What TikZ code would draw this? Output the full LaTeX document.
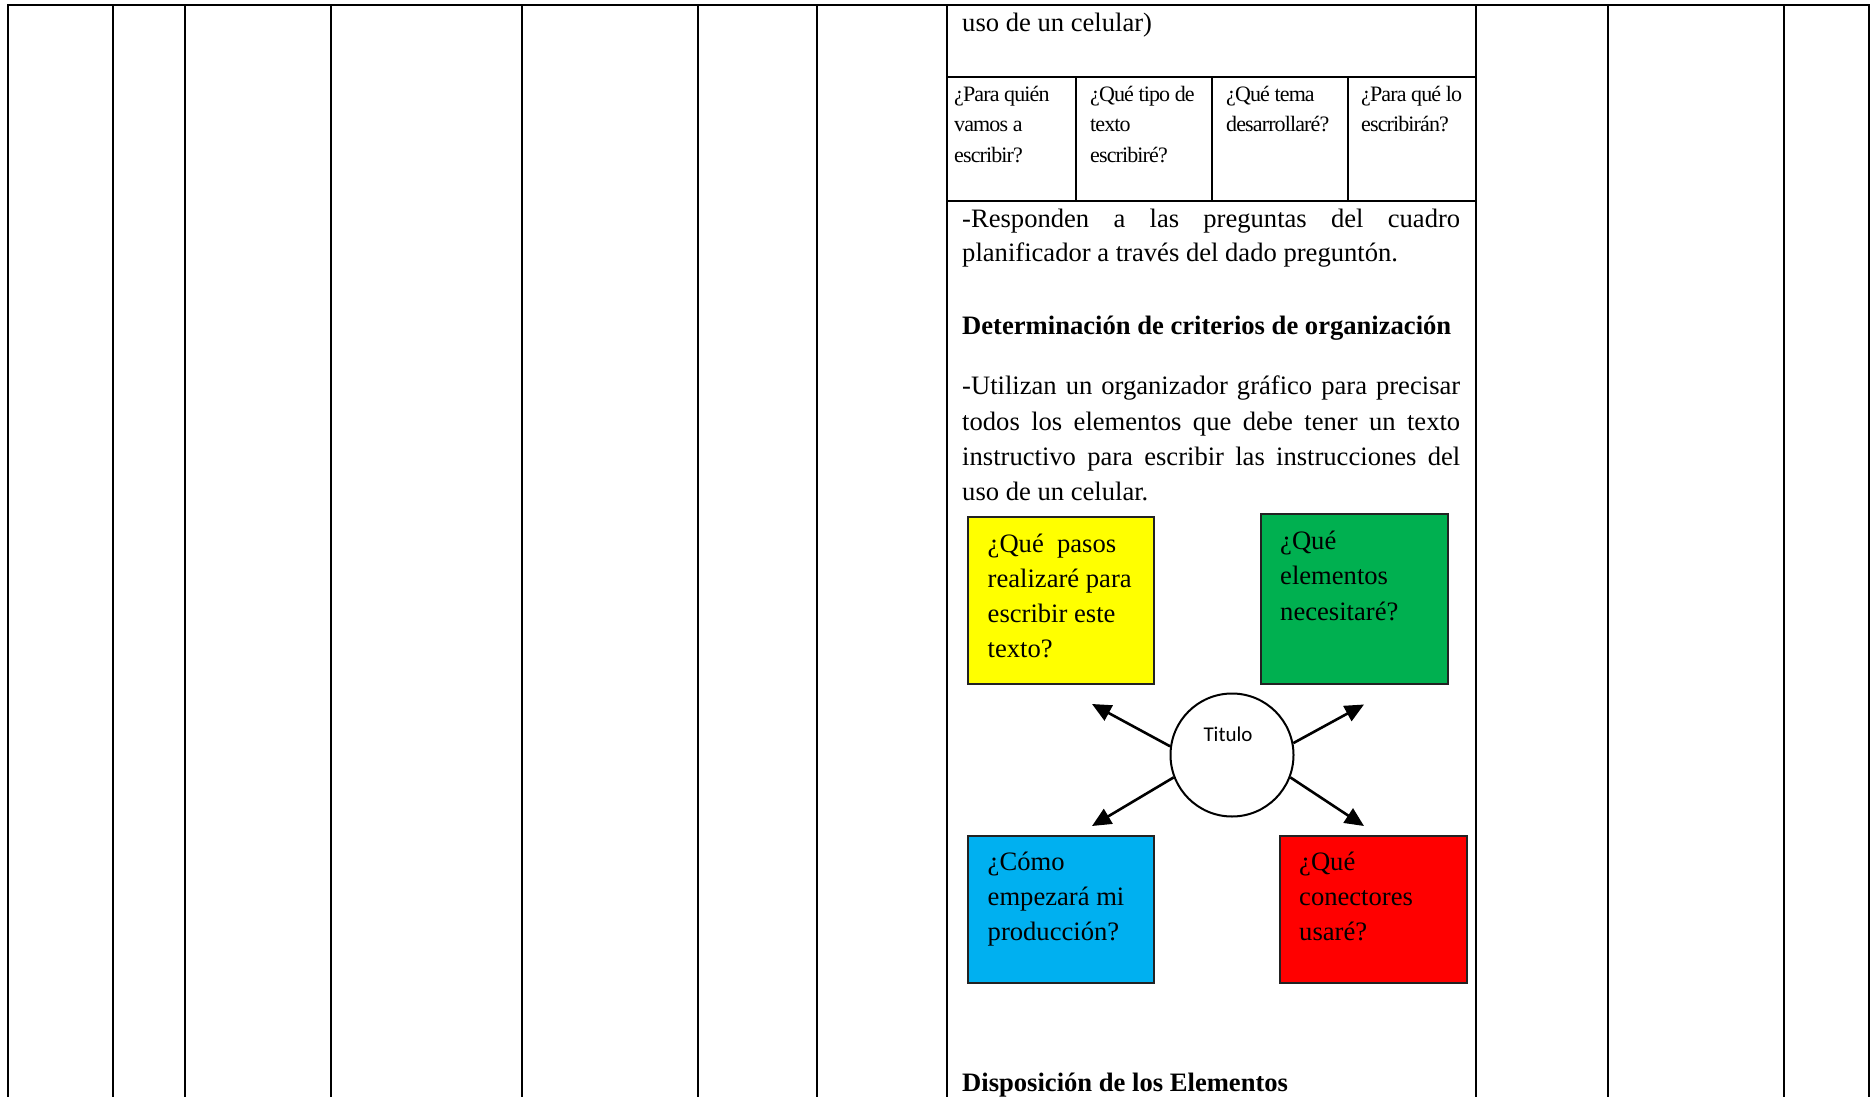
\documentclass[tikz,border=0pt]{standalone}
\usepackage{fontspec}
\setmainfont{Liberation Serif}
\newfontfamily\carl{Carlito}
\newfontfamily\cond[LetterSpace=-4]{Liberation Serif}
\usetikzlibrary{arrows.meta}
\definecolor{byel}{HTML}{FFFF00}
\definecolor{bgrn}{HTML}{00B050}
\definecolor{bblu}{HTML}{00B0F0}
\definecolor{bred}{HTML}{FF0000}
\definecolor{bline}{HTML}{222222}
\begin{document}
\begin{tikzpicture}[x=1pt,y=-1pt,
  grid/.style={line width=2pt,line cap=rect},
  txt/.style={anchor=base west,inner sep=0pt,font=\fontsize{26.6}{35.2}\selectfont},
  btxt/.style={txt,font=\fontsize{26.6}{35.2}\selectfont\bfseries},
  stxt/.style={anchor=base west,inner sep=0pt,font=\cond\fontsize{22}{30}\selectfont},
  qbox/.style={draw=bline,line width=2pt,anchor=north west,inner sep=0pt},
  arr/.style={line width=2.6pt,-{Triangle[length=19pt,width=17pt]}}]
\useasboundingbox (0,0) rectangle (1872,1097);
% table grid
\draw[grid] (8,5.5) -- (1869,5.5);
\foreach \xx in {8,113,185,331,522,698,817,947,1476,1608,1784,1869}
  \draw[grid] (\xx,5.5) -- (\xx,1097);
% sub-table
\draw[grid] (947,77.5) -- (1476,77.5);
\draw[grid] (947,200.5) -- (1476,200.5);
\foreach \xx in {1076,1212,1348}
  \draw[grid] (\xx,77.5) -- (\xx,200.5);
% texts
\node[txt] (u0) at (962,31.5) {uso de un celular)};
\node[stxt] (a1) at (954,101.5) {¿Para quién};
\node[stxt] (a2) at (954,132) {vamos a};
\node[stxt] (a3) at (954,162.5) {escribir?};
\node[stxt] (b1) at (1090,101.5) {¿Qué tipo de};
\node[stxt] (b2) at (1090,132) {texto};
\node[stxt] (b3) at (1090,162.5) {escribiré?};
\node[stxt] (c1) at (1226,101.5) {¿Qué tema};
\node[stxt] (c2) at (1226,132) {desarrollaré?};
\node[stxt] (d1) at (1361,101.5) {¿Para qué lo};
\node[stxt] (d2) at (1361,132) {escribirán?};
\node[txt] (p1) at (962,227.5) {\makebox[498pt][s]{-Responden a las preguntas del cuadro}};
\node[txt] (p2) at (962,261.5) {planificador a través del dado preguntón.};
\node[btxt] (h1) at (962,334) {Determinación de criterios de organización};
\node[txt] (q1) at (962,394.5) {\makebox[498pt][s]{-Utilizan un organizador gráfico para precisar}};
\node[txt] (q2) at (962,430) {\makebox[498pt][s]{todos los elementos que debe tener un texto}};
\node[txt] (q3) at (962,465) {\makebox[498pt][s]{instructivo para escribir las instrucciones del}};
\node[txt] (q4) at (962,500) {uso de un celular.};
% colored boxes
\node[qbox,fill=byel,minimum width=186pt,minimum height=167pt] (yb) at (967,516) {};
\node[qbox,fill=bgrn,minimum width=187pt,minimum height=170pt] (gb) at (1260,513) {};
\node[qbox,fill=bblu,minimum width=186pt,minimum height=147pt] (bb) at (967,835) {};
\node[qbox,fill=bred,minimum width=187pt,minimum height=147pt] (rb) at (1279,835) {};
\node[txt] (y1) at (987.5,552) {¿Qué~~pasos};
\node[txt] (y2) at (987.5,587) {realizaré para};
\node[txt] (y3) at (987.5,622) {escribir este};
\node[txt] (y4) at (987.5,657) {texto?};
\node[txt] (g1) at (1280,549.5) {¿Qué};
\node[txt] (g2) at (1280,584.5) {elementos};
\node[txt] (g3) at (1280,620) {necesitaré?};
\node[txt] (l1) at (987.5,870) {¿Cómo};
\node[txt] (l2) at (987.5,905) {empezará mi};
\node[txt] (l3) at (987.5,940) {producción?};
\node[txt] (r1) at (1299,870) {¿Qué};
\node[txt] (r2) at (1299,905) {conectores};
\node[txt] (r3) at (1299,940) {usaré?};
% circle and arrows
\node[draw,circle,line width=2pt,minimum size=123pt,inner sep=0pt] (c) at (1232,755) {};
\node[anchor=base,inner sep=0pt,font=\carl\fontsize{21}{25}\selectfont] (tt) at (1228,741.5) {Titulo};
\coordinate (tUL) at (1092,704);
\coordinate (tUR) at (1364,704.5);
\coordinate (tLL) at (1092,826);
\coordinate (tLR) at (1364,826);
\draw[arr] (c.172) -- (tUL);
\draw[arr] (c.11) -- (tUR);
\draw[arr] (c.201) -- (tLL);
\draw[arr] (c.339) -- (tLR);
\node[btxt] (h2) at (962,1091) {Disposición de los Elementos};
\end{tikzpicture}
\end{document}
